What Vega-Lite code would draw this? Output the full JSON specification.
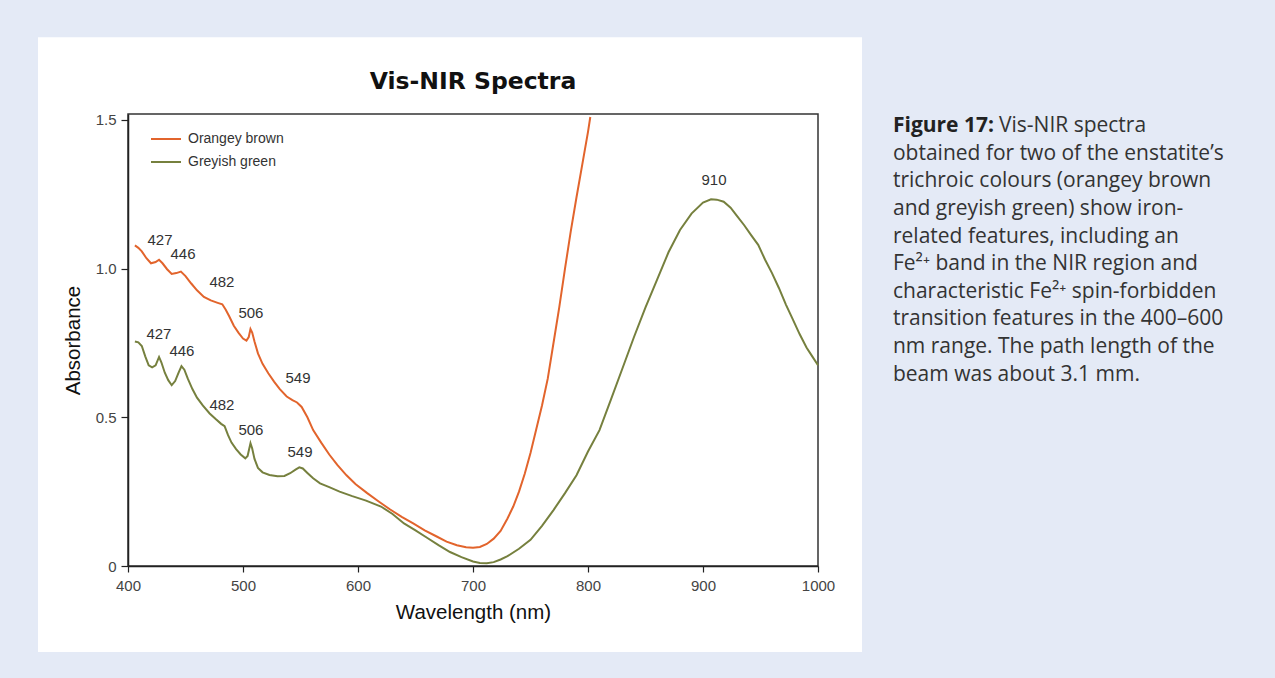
{
  "$schema": "https://vega.github.io/schema/vega-lite/v6.json",
  "width": 690,
  "height": 452,
  "autosize": {"type": "none"},
  "padding": {"left": 128, "top": 114, "right": 457, "bottom": 112},
  "background": "#e4eaf6",
  "title": {"text": "Vis-NIR Spectra", "font": "DejaVu Sans", "fontSize": 23.5, "fontWeight": "bold", "color": "#111", "anchor": "middle", "offset": -56, "zindex": 1},
  "config": {
    "view": {"stroke": null}
  },
  "datasets": {
    "spectra": [
      {"wl": 406, "a": 1.078, "s": "Orangey brown"}, {"wl": 409, "a": 1.07, "s": "Orangey brown"}, {"wl": 412, "a": 1.058, "s": "Orangey brown"}, {"wl": 416, "a": 1.035, "s": "Orangey brown"}, {"wl": 420, "a": 1.018, "s": "Orangey brown"}, {"wl": 424, "a": 1.022, "s": "Orangey brown"}, {"wl": 427, "a": 1.03, "s": "Orangey brown"}, {"wl": 430, "a": 1.018, "s": "Orangey brown"}, {"wl": 434, "a": 0.998, "s": "Orangey brown"}, {"wl": 438, "a": 0.982, "s": "Orangey brown"}, {"wl": 442, "a": 0.985, "s": "Orangey brown"}, {"wl": 446, "a": 0.99, "s": "Orangey brown"}, {"wl": 450, "a": 0.975, "s": "Orangey brown"}, {"wl": 455, "a": 0.95, "s": "Orangey brown"}, {"wl": 460, "a": 0.927, "s": "Orangey brown"}, {"wl": 466, "a": 0.905, "s": "Orangey brown"}, {"wl": 472, "a": 0.893, "s": "Orangey brown"}, {"wl": 478, "a": 0.885, "s": "Orangey brown"}, {"wl": 482, "a": 0.88, "s": "Orangey brown"}, {"wl": 485, "a": 0.862, "s": "Orangey brown"}, {"wl": 488, "a": 0.84, "s": "Orangey brown"}, {"wl": 492, "a": 0.808, "s": "Orangey brown"}, {"wl": 496, "a": 0.785, "s": "Orangey brown"}, {"wl": 500, "a": 0.765, "s": "Orangey brown"}, {"wl": 503, "a": 0.758, "s": "Orangey brown"}, {"wl": 505, "a": 0.77, "s": "Orangey brown"}, {"wl": 506.5, "a": 0.797, "s": "Orangey brown"}, {"wl": 508, "a": 0.785, "s": "Orangey brown"}, {"wl": 510, "a": 0.755, "s": "Orangey brown"}, {"wl": 513, "a": 0.715, "s": "Orangey brown"}, {"wl": 517, "a": 0.68, "s": "Orangey brown"}, {"wl": 522, "a": 0.648, "s": "Orangey brown"}, {"wl": 527, "a": 0.62, "s": "Orangey brown"}, {"wl": 532, "a": 0.595, "s": "Orangey brown"}, {"wl": 538, "a": 0.57, "s": "Orangey brown"}, {"wl": 543, "a": 0.558, "s": "Orangey brown"}, {"wl": 547, "a": 0.55, "s": "Orangey brown"}, {"wl": 551, "a": 0.535, "s": "Orangey brown"}, {"wl": 556, "a": 0.5, "s": "Orangey brown"}, {"wl": 561, "a": 0.457, "s": "Orangey brown"}, {"wl": 568, "a": 0.415, "s": "Orangey brown"}, {"wl": 575, "a": 0.375, "s": "Orangey brown"}, {"wl": 582, "a": 0.34, "s": "Orangey brown"}, {"wl": 590, "a": 0.305, "s": "Orangey brown"}, {"wl": 598, "a": 0.275, "s": "Orangey brown"}, {"wl": 608, "a": 0.245, "s": "Orangey brown"}, {"wl": 618, "a": 0.217, "s": "Orangey brown"}, {"wl": 628, "a": 0.19, "s": "Orangey brown"}, {"wl": 638, "a": 0.165, "s": "Orangey brown"}, {"wl": 648, "a": 0.143, "s": "Orangey brown"}, {"wl": 658, "a": 0.12, "s": "Orangey brown"}, {"wl": 668, "a": 0.1, "s": "Orangey brown"}, {"wl": 677, "a": 0.082, "s": "Orangey brown"}, {"wl": 686, "a": 0.07, "s": "Orangey brown"}, {"wl": 694, "a": 0.063, "s": "Orangey brown"}, {"wl": 700, "a": 0.061, "s": "Orangey brown"}, {"wl": 706, "a": 0.064, "s": "Orangey brown"}, {"wl": 712, "a": 0.074, "s": "Orangey brown"}, {"wl": 718, "a": 0.092, "s": "Orangey brown"}, {"wl": 724, "a": 0.118, "s": "Orangey brown"}, {"wl": 730, "a": 0.16, "s": "Orangey brown"}, {"wl": 735, "a": 0.2, "s": "Orangey brown"}, {"wl": 740, "a": 0.25, "s": "Orangey brown"}, {"wl": 745, "a": 0.31, "s": "Orangey brown"}, {"wl": 750, "a": 0.38, "s": "Orangey brown"}, {"wl": 755, "a": 0.46, "s": "Orangey brown"}, {"wl": 760, "a": 0.54, "s": "Orangey brown"}, {"wl": 765, "a": 0.63, "s": "Orangey brown"}, {"wl": 770, "a": 0.75, "s": "Orangey brown"}, {"wl": 775, "a": 0.87, "s": "Orangey brown"}, {"wl": 780, "a": 1.0, "s": "Orangey brown"}, {"wl": 785, "a": 1.125, "s": "Orangey brown"}, {"wl": 790, "a": 1.24, "s": "Orangey brown"}, {"wl": 795, "a": 1.35, "s": "Orangey brown"}, {"wl": 800, "a": 1.46, "s": "Orangey brown"}, {"wl": 802, "a": 1.51, "s": "Orangey brown"},
      {"wl": 406, "a": 0.755, "s": "Greyish green"}, {"wl": 409, "a": 0.752, "s": "Greyish green"}, {"wl": 412, "a": 0.74, "s": "Greyish green"}, {"wl": 415, "a": 0.705, "s": "Greyish green"}, {"wl": 418, "a": 0.675, "s": "Greyish green"}, {"wl": 421, "a": 0.668, "s": "Greyish green"}, {"wl": 424, "a": 0.675, "s": "Greyish green"}, {"wl": 427, "a": 0.703, "s": "Greyish green"}, {"wl": 429, "a": 0.685, "s": "Greyish green"}, {"wl": 432, "a": 0.65, "s": "Greyish green"}, {"wl": 435, "a": 0.625, "s": "Greyish green"}, {"wl": 438, "a": 0.608, "s": "Greyish green"}, {"wl": 441, "a": 0.622, "s": "Greyish green"}, {"wl": 444, "a": 0.65, "s": "Greyish green"}, {"wl": 446.5, "a": 0.672, "s": "Greyish green"}, {"wl": 449, "a": 0.66, "s": "Greyish green"}, {"wl": 452, "a": 0.63, "s": "Greyish green"}, {"wl": 456, "a": 0.595, "s": "Greyish green"}, {"wl": 460, "a": 0.566, "s": "Greyish green"}, {"wl": 465, "a": 0.54, "s": "Greyish green"}, {"wl": 471, "a": 0.513, "s": "Greyish green"}, {"wl": 476, "a": 0.495, "s": "Greyish green"}, {"wl": 481, "a": 0.478, "s": "Greyish green"}, {"wl": 484, "a": 0.47, "s": "Greyish green"}, {"wl": 487, "a": 0.44, "s": "Greyish green"}, {"wl": 490, "a": 0.415, "s": "Greyish green"}, {"wl": 494, "a": 0.393, "s": "Greyish green"}, {"wl": 498, "a": 0.375, "s": "Greyish green"}, {"wl": 502, "a": 0.362, "s": "Greyish green"}, {"wl": 504, "a": 0.37, "s": "Greyish green"}, {"wl": 506.5, "a": 0.413, "s": "Greyish green"}, {"wl": 508, "a": 0.395, "s": "Greyish green"}, {"wl": 510, "a": 0.36, "s": "Greyish green"}, {"wl": 513, "a": 0.33, "s": "Greyish green"}, {"wl": 517, "a": 0.315, "s": "Greyish green"}, {"wl": 523, "a": 0.306, "s": "Greyish green"}, {"wl": 530, "a": 0.302, "s": "Greyish green"}, {"wl": 536, "a": 0.303, "s": "Greyish green"}, {"wl": 541, "a": 0.312, "s": "Greyish green"}, {"wl": 546, "a": 0.325, "s": "Greyish green"}, {"wl": 549, "a": 0.332, "s": "Greyish green"}, {"wl": 552, "a": 0.328, "s": "Greyish green"}, {"wl": 556, "a": 0.313, "s": "Greyish green"}, {"wl": 561, "a": 0.295, "s": "Greyish green"}, {"wl": 567, "a": 0.278, "s": "Greyish green"}, {"wl": 575, "a": 0.265, "s": "Greyish green"}, {"wl": 584, "a": 0.25, "s": "Greyish green"}, {"wl": 595, "a": 0.235, "s": "Greyish green"}, {"wl": 607, "a": 0.22, "s": "Greyish green"}, {"wl": 620, "a": 0.2, "s": "Greyish green"}, {"wl": 630, "a": 0.175, "s": "Greyish green"}, {"wl": 640, "a": 0.143, "s": "Greyish green"}, {"wl": 650, "a": 0.12, "s": "Greyish green"}, {"wl": 660, "a": 0.095, "s": "Greyish green"}, {"wl": 670, "a": 0.07, "s": "Greyish green"}, {"wl": 680, "a": 0.047, "s": "Greyish green"}, {"wl": 690, "a": 0.03, "s": "Greyish green"}, {"wl": 700, "a": 0.015, "s": "Greyish green"}, {"wl": 706, "a": 0.01, "s": "Greyish green"}, {"wl": 712, "a": 0.009, "s": "Greyish green"}, {"wl": 718, "a": 0.013, "s": "Greyish green"}, {"wl": 724, "a": 0.022, "s": "Greyish green"}, {"wl": 730, "a": 0.033, "s": "Greyish green"}, {"wl": 740, "a": 0.058, "s": "Greyish green"}, {"wl": 750, "a": 0.088, "s": "Greyish green"}, {"wl": 760, "a": 0.135, "s": "Greyish green"}, {"wl": 770, "a": 0.188, "s": "Greyish green"}, {"wl": 780, "a": 0.245, "s": "Greyish green"}, {"wl": 790, "a": 0.305, "s": "Greyish green"}, {"wl": 800, "a": 0.385, "s": "Greyish green"}, {"wl": 810, "a": 0.457, "s": "Greyish green"}, {"wl": 820, "a": 0.56, "s": "Greyish green"}, {"wl": 830, "a": 0.665, "s": "Greyish green"}, {"wl": 840, "a": 0.77, "s": "Greyish green"}, {"wl": 850, "a": 0.87, "s": "Greyish green"}, {"wl": 860, "a": 0.962, "s": "Greyish green"}, {"wl": 870, "a": 1.055, "s": "Greyish green"}, {"wl": 880, "a": 1.13, "s": "Greyish green"}, {"wl": 890, "a": 1.185, "s": "Greyish green"}, {"wl": 900, "a": 1.222, "s": "Greyish green"}, {"wl": 907, "a": 1.233, "s": "Greyish green"}, {"wl": 912, "a": 1.232, "s": "Greyish green"}, {"wl": 918, "a": 1.225, "s": "Greyish green"}, {"wl": 924, "a": 1.205, "s": "Greyish green"}, {"wl": 930, "a": 1.175, "s": "Greyish green"}, {"wl": 936, "a": 1.145, "s": "Greyish green"}, {"wl": 942, "a": 1.112, "s": "Greyish green"}, {"wl": 948, "a": 1.08, "s": "Greyish green"}, {"wl": 954, "a": 1.03, "s": "Greyish green"}, {"wl": 960, "a": 0.985, "s": "Greyish green"}, {"wl": 966, "a": 0.935, "s": "Greyish green"}, {"wl": 972, "a": 0.88, "s": "Greyish green"}, {"wl": 978, "a": 0.83, "s": "Greyish green"}, {"wl": 984, "a": 0.78, "s": "Greyish green"}, {"wl": 990, "a": 0.735, "s": "Greyish green"}, {"wl": 995, "a": 0.705, "s": "Greyish green"}, {"wl": 1000, "a": 0.675, "s": "Greyish green"}
    ],
    "peaks": [
      {"wl": 427.8, "a": 1.096, "label": "427"}, {"wl": 447.8, "a": 1.049, "label": "446"}, {"wl": 481.7, "a": 0.955, "label": "482"}, {"wl": 506.9, "a": 0.85, "label": "506"}, {"wl": 547.8, "a": 0.632, "label": "549"},
      {"wl": 426.9, "a": 0.78, "label": "427"}, {"wl": 446.9, "a": 0.723, "label": "446"}, {"wl": 481.7, "a": 0.541, "label": "482"}, {"wl": 506.9, "a": 0.457, "label": "506"}, {"wl": 549.6, "a": 0.383, "label": "549"},
      {"wl": 909.6, "a": 1.297, "label": "910"}
    ]
  },
  "layer": [
    {
      "data": {"values": [{}]},
      "mark": {"type": "rect", "color": "white"},
      "encoding": {
        "x": {"datum": 321.74, "type": "quantitative", "title": "Wavelength (nm)", "scale": {"domain": [400, 1000], "nice": false, "zero": false}},
        "x2": {"datum": 1038.26},
        "y": {"datum": 1.778, "type": "quantitative", "title": "Absorbance", "scale": {"domain": [0, 1.52], "nice": false, "zero": false}},
        "y2": {"datum": -0.289}
      }
    },
    {
      "data": {"values": [{}]},
      "mark": {"type": "rect", "filled": false, "stroke": "#333", "strokeWidth": 1.5},
      "encoding": {
        "x": {"datum": 400, "type": "quantitative", "title": "Wavelength (nm)", "scale": {"domain": [400, 1000], "nice": false, "zero": false}},
        "x2": {"datum": 1000},
        "y": {"datum": 1.52, "type": "quantitative", "title": "Absorbance", "scale": {"domain": [0, 1.52], "nice": false, "zero": false}},
        "y2": {"datum": 0}
      }
    },
    {
      "data": {"name": "spectra"},
      "mark": {"type": "line", "strokeWidth": 2},
      "encoding": {
        "x": {"field": "wl", "type": "quantitative", "title": "Wavelength (nm)", "scale": {"domain": [400, 1000], "nice": false, "zero": false},
              "axis": {"values": [400, 500, 600, 700, 800, 900, 1000], "format": "d", "labelFlush": false, "grid": false, "tickSize": 6, "tickWidth": 1.2, "tickColor": "#222", "domainColor": "#222", "domainWidth": 1.5,
                       "labelPadding": 6, "labelFont": "Liberation Sans", "labelFontSize": 15, "labelColor": "#444",
                       "titlePadding": 9, "titleFont": "Liberation Sans", "titleFontSize": 20.5, "titleFontWeight": "normal", "titleColor": "#111", "zindex": 1}},
        "y": {"field": "a", "type": "quantitative", "title": "Absorbance", "scale": {"domain": [0, 1.52], "nice": false, "zero": false},
              "axis": {"values": [0, 0.5, 1, 1.5], "labelExpr": "datum.value == 0 ? '0' : format(datum.value, '.1f')", "labelFlush": false, "grid": false, "tickSize": 7, "tickWidth": 1.2, "tickColor": "#222", "domainColor": "#222", "domainWidth": 1.5,
                       "labelPadding": 5, "labelFont": "Liberation Sans", "labelFontSize": 15, "labelColor": "#444",
                       "titlePadding": 12, "titleFont": "Liberation Sans", "titleFontSize": 20.5, "titleFontWeight": "normal", "titleColor": "#111", "zindex": 1}},
        "color": {"field": "s", "type": "nominal",
                  "scale": {"domain": ["Orangey brown", "Greyish green"], "range": ["#e2642c", "#76803e"]},
                  "legend": {"title": null, "orient": "none", "legendX": 22, "legendY": 9, "symbolType": "stroke", "symbolSize": 900, "symbolStrokeWidth": 2, "labelFont": "Liberation Sans", "labelFontSize": 14, "labelColor": "#333", "labelOffset": 6, "rowPadding": -8, "padding": 0, "zindex": 1}},
        "detail": {"field": "s"}
      }
    },
    {
      "data": {"name": "peaks"},
      "mark": {"type": "text", "font": "Liberation Sans", "fontSize": 15, "color": "#333", "align": "center", "baseline": "middle"},
      "encoding": {
        "x": {"field": "wl", "type": "quantitative", "title": "Wavelength (nm)", "scale": {"domain": [400, 1000], "nice": false, "zero": false}},
        "y": {"field": "a", "type": "quantitative", "title": "Absorbance", "scale": {"domain": [0, 1.52], "nice": false, "zero": false}},
        "text": {"field": "label", "type": "nominal"}
      }
    },
    {
      "data": {"values": [{}]},
      "mark": {"type": "text", "text": "Figure 17:", "font": "Open Sans", "fontSize": 21, "fontWeight": "bold", "color": "#222", "align": "left", "baseline": "alphabetic"},
      "encoding": {
        "x": {"datum": 1065.2, "type": "quantitative", "title": "Wavelength (nm)", "scale": {"domain": [400, 1000], "nice": false, "zero": false}},
        "y": {"datum": 1.4588, "type": "quantitative", "title": "Absorbance", "scale": {"domain": [0, 1.52], "nice": false, "zero": false}}
      }
    },
    {
      "data": {"values": [{}]},
      "mark": {"type": "text", "text": "Vis-NIR spectra", "font": "Open Sans", "fontSize": 21, "color": "#333", "align": "left", "baseline": "alphabetic", "dx": 106},
      "encoding": {
        "x": {"datum": 1065.2, "type": "quantitative", "title": "Wavelength (nm)", "scale": {"domain": [400, 1000], "nice": false, "zero": false}},
        "y": {"datum": 1.4588, "type": "quantitative", "title": "Absorbance", "scale": {"domain": [0, 1.52], "nice": false, "zero": false}}
      }
    },
    {
      "data": {"values": [{}]},
      "mark": {"type": "text", "font": "Open Sans", "fontSize": 21, "color": "#333", "align": "left", "baseline": "alphabetic", "lineHeight": 27.6,
               "text": ["obtained for two of the enstatite’s", "trichroic colours (orangey brown", "and greyish green) show iron-", "related features, including an", "Fe²⁺ band in the NIR region and", "characteristic Fe²⁺ spin-forbidden", "transition features in the 400–600", "nm range. The path length of the", "beam was about 3.1 mm."]},
      "encoding": {
        "x": {"datum": 1065.2, "type": "quantitative", "title": "Wavelength (nm)", "scale": {"domain": [400, 1000], "nice": false, "zero": false}},
        "y": {"datum": 1.366, "type": "quantitative", "title": "Absorbance", "scale": {"domain": [0, 1.52], "nice": false, "zero": false}}
      }
    }
  ]
}
